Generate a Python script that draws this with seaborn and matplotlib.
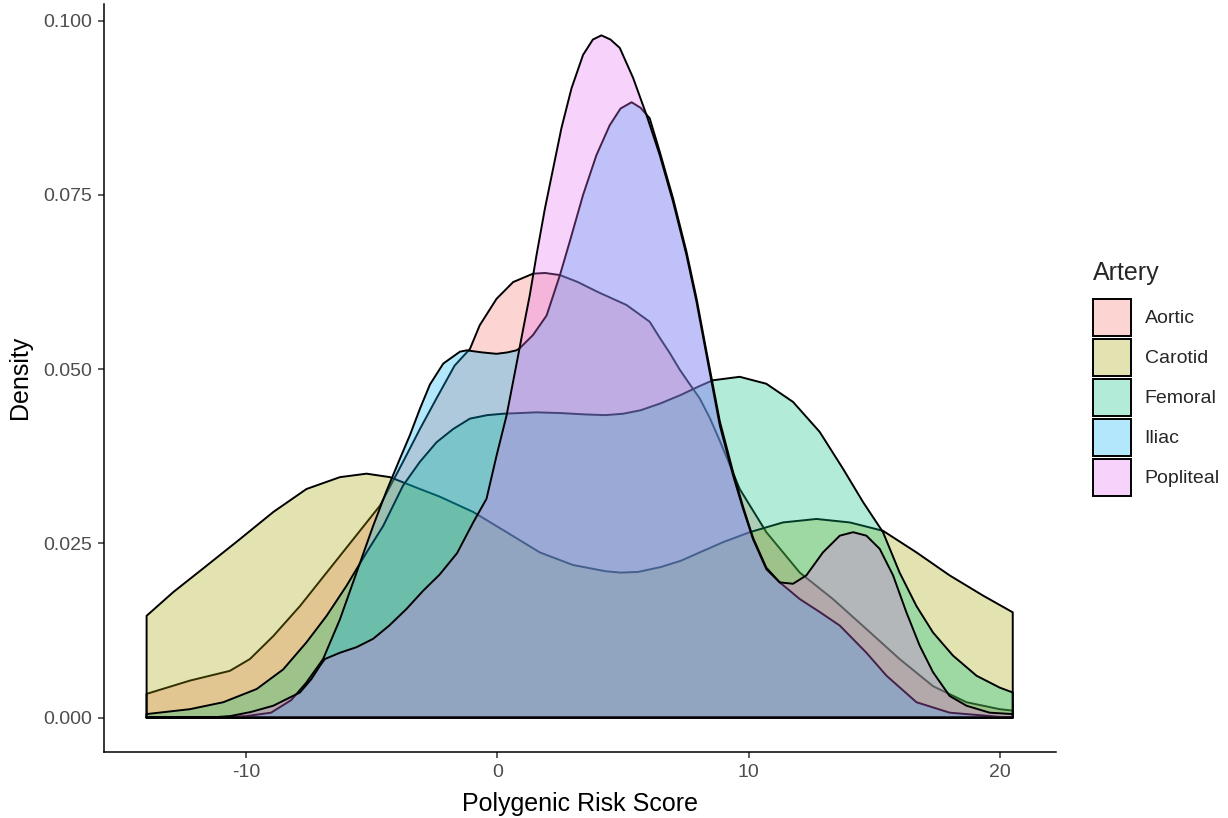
import numpy as np
import pandas as pd
import matplotlib
matplotlib.use("Agg")
import matplotlib.pyplot as plt
from matplotlib.patches import Patch
from matplotlib.colors import to_rgba
import seaborn as sns

# ---------------- data ----------------
arteries = ["Aortic", "Carotid", "Femoral", "Iliac", "Popliteal"]
colors = ["#F8766D", "#A3A500", "#00BF7D", "#00B0F6", "#E76BF3"]

aortic_x = [-13.95, -12.23, -10.64, -9.84, -8.91, -7.85, -6.79, -5.73, -4.67, -3.75, -3.08, -2.42,
            -1.7, -1.09, -0.7, -0.03, 0.63, 1.42, 1.9, 2.49, 3.2, 3.98, 5.14, 6.06, 6.46, 6.86,
            7.26, 7.66, 8.05, 8.45, 8.85, 9.64, 10.7, 12.03, 13.35, 14.68, 16.0, 17.33, 18.66,
            19.98, 20.5]
aortic_y = [0.0034, 0.0053, 0.0067, 0.0084, 0.0117, 0.016, 0.0208, 0.0256, 0.0304, 0.0367, 0.0414,
            0.0458, 0.0505, 0.0529, 0.0563, 0.0601, 0.0625, 0.0637, 0.0638, 0.0635, 0.0625, 0.0611,
            0.0592, 0.0568, 0.0545, 0.0523, 0.0499, 0.0478, 0.0458, 0.043, 0.0397, 0.0328, 0.0266,
            0.0208, 0.017, 0.0127, 0.0084, 0.0045, 0.0022, 0.0012, 0.001]

carotid_x = [-13.95, -12.89, -11.56, -10.24, -8.91, -7.59, -6.26, -5.2, -4.27, -3.08, -2.29, -0.96,
             0.37, 1.69, 3.0, 4.3, 4.9, 5.6, 6.5, 7.3, 8.05, 9.0, 10.04, 11.36, 12.69, 14.02,
             15.34, 16.67, 17.99, 19.32, 20.5]
carotid_y = [0.0146, 0.018, 0.0218, 0.0256, 0.0295, 0.0328, 0.0345, 0.035, 0.0345, 0.0328, 0.0317,
             0.0295, 0.0266, 0.0237, 0.0219, 0.021, 0.0208, 0.0209, 0.0216, 0.0225, 0.0237, 0.0252,
             0.0266, 0.028, 0.0285, 0.028, 0.0268, 0.0237, 0.0204, 0.0175, 0.0151]

femoral_x = [-13.95, -12.23, -10.9, -9.57, -8.52, -7.59, -6.79, -6.0, -5.2, -4.54, -3.75, -3.08,
             -2.42, -1.76, -1.09, -0.4, 0.23, 1.56, 2.5, 3.5, 4.3, 5.0, 5.7, 6.5, 7.3, 8.0, 8.57,
             9.64, 10.7, 11.76, 12.82, 13.75, 14.55, 15.34, 16.0, 16.67, 17.33, 18.12, 19.06,
             19.98, 20.5]
femoral_y = [0.0005, 0.0012, 0.0022, 0.0041, 0.0069, 0.0108, 0.0146, 0.0189, 0.0237, 0.0275, 0.0333,
             0.0367, 0.0395, 0.0414, 0.0429, 0.0434, 0.0436, 0.0438, 0.0437, 0.0435, 0.0434, 0.0436,
             0.0441, 0.0451, 0.0463, 0.0475, 0.0484, 0.0489, 0.0479, 0.0453, 0.041, 0.0357, 0.0309,
             0.0266, 0.0208, 0.016, 0.0122, 0.0089, 0.006, 0.0043, 0.0036]

iliac_x = [-13.95, -11.5, -10.0, -9.0, -8.2, -7.6, -6.93, -6.26, -5.6, -4.94, -4.41, -3.88, -3.48,
           -3.08, -2.68, -2.15, -1.49, -1.22, -0.6, -0.03, 0.4, 0.76, 0.89, 1.42, 1.96, 2.49, 2.88,
           3.41, 3.94, 4.47, 4.9, 5.34, 5.7, 6.06, 6.46, 6.99, 7.52, 7.92, 8.32, 8.85, 9.38, 9.77,
           10.17, 10.7, 11.23, 11.6, 12.03, 12.8, 13.62, 14.68, 15.48, 16.67, 17.99, 19.98, 20.5]
iliac_y = [0.0, 0.0, 0.0002, 0.0007, 0.0025, 0.005, 0.0084, 0.0141, 0.0208, 0.0275, 0.0325, 0.0371,
           0.0405, 0.0443, 0.0478, 0.0508, 0.0525, 0.0527, 0.0524, 0.0522, 0.0524, 0.0527, 0.053,
           0.0549, 0.0577, 0.0635, 0.0683, 0.075, 0.0807, 0.085, 0.0874, 0.0883, 0.0875, 0.086,
           0.0812, 0.0745, 0.0669, 0.0602, 0.0525, 0.0425, 0.0352, 0.0303, 0.0258, 0.0215, 0.0194,
           0.0183, 0.017, 0.0152, 0.0132, 0.0093, 0.006, 0.0022, 0.0007, 0.0001, 0.0]

popliteal_x = [-13.95, -11.5, -10.64, -9.8, -8.91, -7.85, -7.4, -7.06, -6.86, -6.26, -5.6, -4.94,
               -4.3, -3.61, -2.95, -2.3, -1.6, -0.96, -0.43, -0.03, 0.37, 0.83, 1.03, 1.29, 1.56,
               1.89, 2.22, 2.55, 2.95, 3.41, 3.8, 4.14, 4.5, 4.87, 5.4, 5.93, 6.46, 6.99, 7.52,
               7.92, 8.32, 8.85, 9.38, 9.77, 10.17, 10.7, 11.23, 11.76, 12.29, 12.95, 13.62, 14.15,
               14.68, 15.21, 15.74, 16.27, 16.8, 17.33, 17.99, 18.66, 19.58, 20.5]
popliteal_y = [0.0, 0.0, 0.0002, 0.0008, 0.0017, 0.0036, 0.0055, 0.0074, 0.0084, 0.0093, 0.0101,
               0.0113, 0.0132, 0.0156, 0.0182, 0.0205, 0.0236, 0.028, 0.0314, 0.0376, 0.0434,
               0.052, 0.0558, 0.0606, 0.0664, 0.073, 0.0788, 0.0846, 0.0903, 0.0951, 0.0973,
               0.0979, 0.0973, 0.0961, 0.0918, 0.0865, 0.0807, 0.074, 0.0664, 0.0597, 0.052,
               0.0419, 0.0347, 0.03, 0.0256, 0.0213, 0.0194, 0.0192, 0.0204, 0.0237, 0.0261,
               0.0266, 0.0261, 0.0242, 0.0204, 0.0151, 0.0103, 0.0065, 0.0031, 0.0017, 0.0007,
               0.0005]

x_ticks = [-10, 0, 10, 20]
x_tick_labels = ["-10", "0", "10", "20"]
y_ticks = [0.0, 0.025, 0.05, 0.075, 0.1]
y_tick_labels = ["0.000", "0.025", "0.050", "0.075", "0.100"]

series_x = [aortic_x, carotid_x, femoral_x, iliac_x, popliteal_x]
series_y = [aortic_y, carotid_y, femoral_y, iliac_y, popliteal_y]

# ---------------- styling ----------------
sns.set_theme(style="ticks")
plt.rcParams["font.family"] = ["Liberation Sans", "DejaVu Sans"]

fig = plt.figure(figsize=(12.28, 8.18), dpi=100)
ax = fig.add_axes([103.6 / 1228, 1 - 751.7 / 818, (1056 - 103.6) / 1228, (751.7 - 4) / 818])

z = 1
for name, col, xs, ys in zip(arteries, colors, series_x, series_y):
    df = pd.DataFrame({"x": xs, "y": ys})
    ax.fill_between(df["x"], 0, df["y"], facecolor=to_rgba(col, 0.3), edgecolor="none",
                    linewidth=0, zorder=z)
    # closed outline (upper curve, end edges and baseline) like ggplot's full outline
    outline = pd.DataFrame({
        "x": [xs[0]] + list(xs) + [xs[-1], xs[0]],
        "y": [0.0] + list(ys) + [0.0, 0.0],
    })
    line_ax = sns.lineplot(data=outline, x="x", y="y", sort=False, estimator=None, color="black",
                           linewidth=1.4, ax=ax, zorder=z + 1)
    line_ax.lines[-1].set_solid_joinstyle("round")
    z += 2

ax.set_xlim(-15.66, 22.22)
ax.set_ylim(-0.0049, 0.1024)
ax.set_xticks(x_ticks)
ax.set_xticklabels(x_tick_labels)
ax.set_yticks(y_ticks)
ax.set_yticklabels(y_tick_labels)

sns.despine(ax=ax)
for sp in ["left", "bottom"]:
    ax.spines[sp].set_color("black")
    ax.spines[sp].set_linewidth(1.1)
ax.tick_params(axis="both", which="major", labelsize=14, labelcolor="#4D4D4D", color="#333333",
               length=4.5, width=1.1, pad=4)

ax.set_xlabel("Polygenic Risk Score", fontsize=18, color="black", labelpad=8)
ax.set_ylabel("Density", fontsize=18, color="black", labelpad=8)

handles = [Patch(facecolor=to_rgba(c, 0.3), edgecolor="black", linewidth=1.4) for c in colors]
leg = ax.legend(handles, arteries, title="Artery", loc="upper left",
                bbox_to_anchor=(1093 / 1228, 1 - 261 / 818), bbox_transform=fig.transFigure,
                frameon=False, fontsize=14, title_fontsize=18, handlelength=1.95,
                handleheight=2.55, labelspacing=0.15, handletextpad=0.7, borderpad=0,
                borderaxespad=0, alignment="left")
leg._legend_box.sep = 10

fig.savefig("out.png", dpi=100)
